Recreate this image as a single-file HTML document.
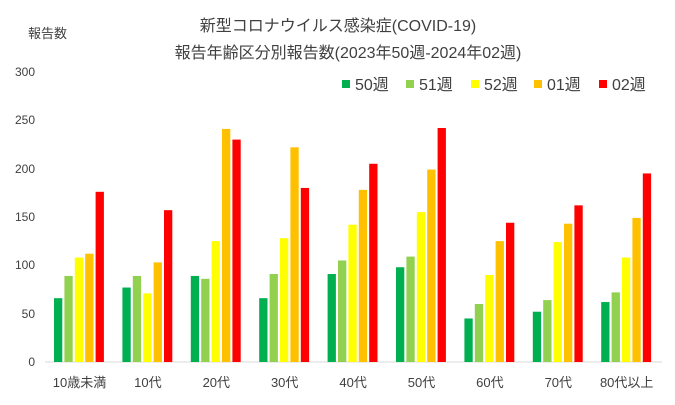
<!DOCTYPE html>
<html><head><meta charset="utf-8"><style>
body{margin:0;background:#fff;}
svg text{font-family:"Liberation Sans","Noto Sans CJK JP",sans-serif;fill:#404040;}
</style></head><body>
<svg width="675" height="400" xmlns="http://www.w3.org/2000/svg">
<rect width="675" height="400" fill="#fff"/>
<text x="338" y="31" font-size="16" text-anchor="middle">新型コロナウイルス感染症(COVID-19)</text>
<text x="348" y="58" font-size="16" text-anchor="middle">報告年齢区分別報告数(2023年50週-2024年02週)</text>
<text x="28" y="38" font-size="13">報告数</text>
<g font-size="12" text-anchor="end">
<text x="35" y="366">0</text><text x="35" y="318">50</text><text x="35" y="269">100</text>
<text x="35" y="221">150</text><text x="35" y="173">200</text><text x="35" y="124">250</text><text x="35" y="76">300</text>
</g>
<g font-size="16">
<rect x="342" y="80" width="8" height="8" fill="#00b050"/><text x="355" y="90">50週</text>
<rect x="406" y="80" width="8" height="8" fill="#92d050"/><text x="419" y="90">51週</text>
<rect x="471" y="80" width="8" height="8" fill="#ffff00"/><text x="484" y="90">52週</text>
<rect x="534" y="80" width="8" height="8" fill="#ffc000"/><text x="547" y="90">01週</text>
<rect x="599" y="80" width="8" height="8" fill="#ff0000"/><text x="612" y="90">02週</text>
</g>
<line x1="45" y1="362" x2="662" y2="362" stroke="#d9d9d9" stroke-width="1"/>
<g id="bars"></g>
<g id="labels" font-size="13" text-anchor="middle"></g>
<script>
var d=[["10歳未満",66,89,108,112,176],["10代",77,89,71,103,157],["20代",89,86,125,241,230],["30代",66,91,128,222,180],["40代",91,105,142,178,205],["50代",98,109,155,199,242],["60代",45,60,90,125,144],["70代",52,64,124,143,162],["80代以上",62,72,108,149,195]];
var c=["#00b050","#92d050","#ffff00","#ffc000","#ff0000"];
var b=document.getElementById("bars"),l=document.getElementById("labels"),ns="http://www.w3.org/2000/svg";
d.forEach(function(g,i){var x0=45+i*68.4;
for(var k=0;k<5;k++){var h=g[k+1]*0.967;var r=document.createElementNS(ns,"rect");
r.setAttribute("x",x0+9+k*10.4);r.setAttribute("y",362-h);r.setAttribute("width",8.3);r.setAttribute("height",h);r.setAttribute("fill",c[k]);b.appendChild(r);}
var t=document.createElementNS(ns,"text");t.setAttribute("x",x0+34.5);t.setAttribute("y",387);t.textContent=g[0];l.appendChild(t);});
</script>
</svg>
</body></html>
